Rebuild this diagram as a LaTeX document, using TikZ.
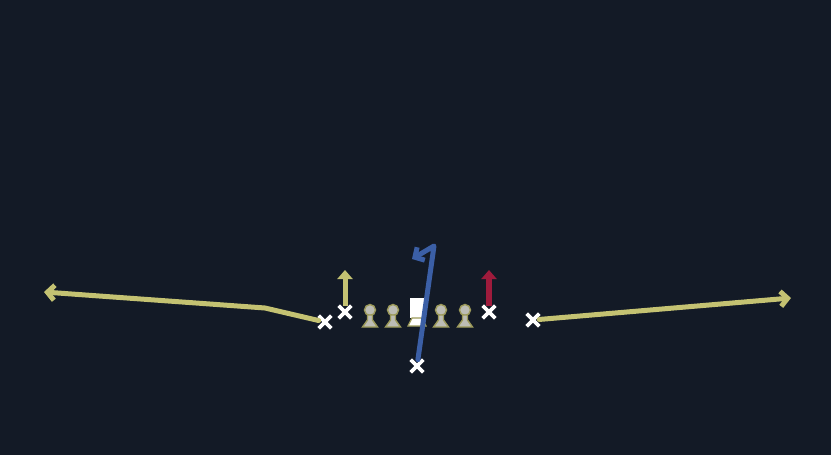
\documentclass[tikz,border=0pt]{standalone}
\usetikzlibrary{arrows.meta,shapes.misc}
\definecolor{field}{HTML}{131A26}
\definecolor{route}{HTML}{C4C272}
\definecolor{block}{HTML}{9E1B3C}
\definecolor{qbroute}{HTML}{3B5FA6}
\definecolor{lineman}{HTML}{BDBDB5}
\definecolor{rim}{HTML}{9C9A5A}
\tikzset{
  player/.style={cross out, draw=white, line width=3.6pt, minimum size=9pt, inner sep=0pt},
  yroute/.style={route, line width=5pt, line cap=round},
  lman/.style={fill=lineman, draw=rim, line width=1.4pt}
}
\begin{document}
\begin{tikzpicture}[x=1pt,y=-1pt]
    \fill[field] (0,0) rectangle (831,455);
    \useasboundingbox (0,0) rectangle (831,455);

    % linemen
    \foreach \x in {370, 393, 441, 465} {
      \filldraw[lman] (\x,310) circle[radius=5.5];
      \filldraw[lman] (\x-2.5,315) -- (\x+2.5,315) -- (\x+2.5,320) -- (\x+7.5,327) -- (\x-7.5,327) -- (\x-2.5,320) -- cycle;
    }
    % center
    \fill[white] (410,298) rectangle (424,318);
    \filldraw[fill=white, draw=rim, line width=1.2pt] (412,318) -- (422,318) -- (426,326) -- (408,326) -- cycle;

    % skill players
    \node[player] (wrl) at (325,322) {};
    \node[player] (tel) at (345,312) {};
    \node[player] (ter) at (489,312) {};
    \node[player] (wrr) at (533,320) {};
    \node[player] (qb) at (417,366) {};

    % routes
    \draw[yroute, -{Straight Barb[length=7pt,width=15pt]}] (wrl) -- (265,308) -- (44,292);
    \draw[yroute, -{Straight Barb[length=7pt,width=15pt]}] (wrr) -- (791,298);
    \draw[yroute, line cap=butt, -{Triangle[length=9pt,width=15pt]}] (tel) -- (345,270);
    \draw[block, line width=6pt, -{Triangle[length=9pt,width=15pt]}] (ter) -- (489,270);
    \draw[qbroute, line width=5pt, line cap=round, line join=round, -{Straight Barb[length=7pt,width=15pt]}] (qb) -- (434,246) -- (412,259);
  \end{tikzpicture}
\end{document}
